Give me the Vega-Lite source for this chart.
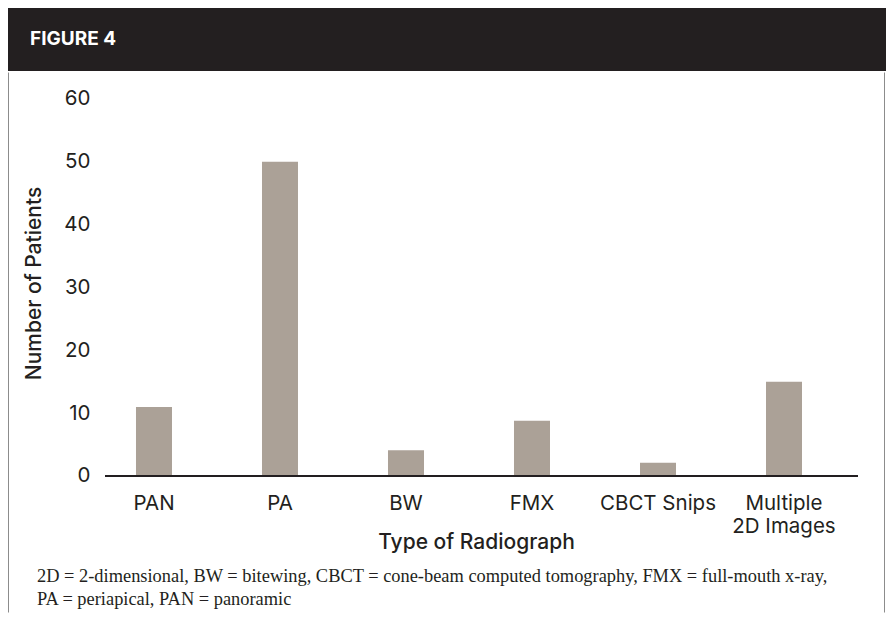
{
  "$schema": "https://vega.github.io/schema/vega-lite/v6.json",
  "background": "white",
  "padding": {"left": 7, "top": 8, "right": 9, "bottom": 13},
  "spacing": 0,
  "config": {"view": {"stroke": null}, "font": "Inter", "concat": {"spacing": 0}},
  "vconcat": [
    {
      "width": 878,
      "height": 63,
      "view": {"fill": "#231f20", "stroke": null},
      "title": {"text": "FIGURE 4", "orient": "top", "anchor": "start", "frame": "group", "offset": -37, "baseline": "alphabetic", "dx": 22, "dy": 19, "color": "#ffffff", "fontSize": 19, "fontWeight": 700, "font": "Inter"},
      "data": {"values": [{"k": 1}]},
      "mark": {"type": "point", "opacity": 0},
      "encoding": {}
    },
    {
      "width": 876,
      "height": 540,
      "view": {"stroke": "#8c8c8c", "strokeWidth": 1, "strokeDash": [0, 876, 540, 876, 540, 0]},
      "title": {
        "text": ["2D = 2-dimensional, BW = bitewing, CBCT = cone-beam computed tomography, FMX = full-mouth x-ray,", "PA = periapical, PAN = panoramic"],
        "orient": "bottom", "anchor": "start", "frame": "group", "offset": -30, "baseline": "alphabetic",
        "lineHeight": 23, "dx": 29, "font": "Liberation Serif", "fontSize": 18.4, "fontWeight": 400, "color": "#231f20"
      },
      "data": {"values": [
        {"type": "PAN", "patients": 11},
        {"type": "PA", "patients": 50},
        {"type": "BW", "patients": 4.1},
        {"type": "FMX", "patients": 8.8},
        {"type": "CBCT Snips", "patients": 2.1},
        {"type": "Multiple 2D Images", "patients": 15}
      ]},
      "layer": [
        {
          "mark": {"type": "bar", "color": "#aba197"},
          "encoding": {
            "x": {
              "field": "type", "type": "nominal", "sort": null,
              "scale": {"paddingInner": 0.7143, "paddingOuter": 0.8333, "align": 0.6095},
              "axis": {
                "title": "Type of Radiograph", "offset": -136, "domain": false, "ticks": false, "labelAngle": 0,
                "labelFont": "Inter", "labelFontSize": 20.5, "labelColor": "#231f20", "labelPadding": 17,
                "labelExpr": "datum.value == 'Multiple 2D Images' ? ['Multiple', '2D Images'] : datum.value",
                "labelLineHeight": 23,
                "titleFont": "Inter", "titleFontSize": 21, "titleFontWeight": 500, "titleColor": "#231f20",
                "titleX": 468, "titleY": 72, "titleBaseline": "alphabetic", "titleAlign": "center"
              }
            },
            "y": {
              "field": "patients", "type": "quantitative",
              "scale": {"domain": [-21.645, 64.297], "nice": false, "zero": false},
              "axis": {
                "values": [0, 10, 20, 30, 40, 50, 60], "offset": -85, "domain": false, "ticks": false, "grid": false,
                "labelPadding": 3, "labelFont": "Inter", "labelFontSize": 20.5, "labelColor": "#231f20",
                "title": "Number of Patients", "titleFont": "Inter", "titleFontSize": 21, "titleFontWeight": 500, "titleColor": "#231f20",
                "titleX": -59, "titleY": 211, "titleBaseline": "middle", "titleAlign": "center", "titleAngle": -90
              }
            }
          }
        },
        {
          "mark": {"type": "rule", "color": "#231f20", "strokeWidth": 1.5, "xOffset": -49, "x2Offset": 74},
          "encoding": {
            "x": {"datum": "PAN", "type": "nominal"},
            "x2": {"datum": "Multiple 2D Images"},
            "y": {"datum": 0, "type": "quantitative"}
          }
        }
      ]
    }
  ]
}
